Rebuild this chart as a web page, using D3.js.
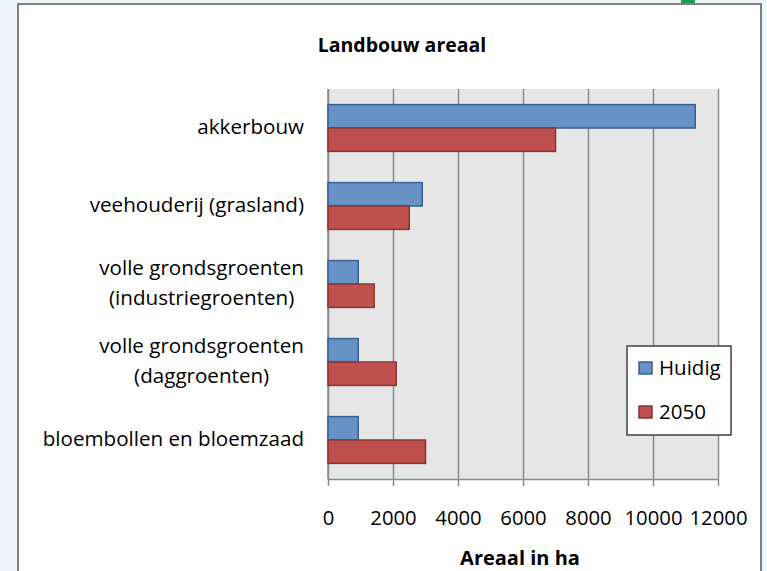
<!DOCTYPE html>
<html>
<head>
<meta charset="utf-8">
<script src="https://cdn.jsdelivr.net/npm/d3@7"></script>
<style>
  body { margin: 0; background: #eef6f9; }
  svg { display: block; font-family: "Open Sans", sans-serif; }
  .grid line { stroke: #8a8a8a; stroke-width: 1.5; }
  .grid path { display: none; }
  .xaxis path, .xaxis line { stroke: #8a8a8a; stroke-width: 1.5; }
  .xaxis text { font-size: 20.3px; fill: #000; font-family: "Open Sans", sans-serif; }
  .catLabel { font-size: 20.6px; fill: #000; }
</style>
</head>
<body>
<script>
// chart values
var categories = [
    ["akkerbouw"],
    ["veehouderij (grasland)"],
    ["volle grondsgroenten", "(industriegroenten)"],
    ["volle grondsgroenten", "(daggroenten)"],
    ["bloembollen en bloemzaad"]
];
var huidig = [11300, 2900, 930, 930, 930];
var jaar2050 = [7000, 2500, 1420, 2100, 3000];
var xTicks = [0, 2000, 4000, 6000, 8000, 10000, 12000];
var seriesNames = ["Huidig", "2050"];

var w = 767, h = 571;

window.onload = function(){

    var svg = d3.select("body")
        .append("svg")
        .attr("width", w)
        .attr("height", h);

    //faint page behind the chart
    svg.append("rect")
        .attr("x", 0).attr("y", 0)
        .attr("width", w).attr("height", h)
        .style("fill", "#eef6f9");
    svg.append("rect")
        .attr("x", 681).attr("y", 0)
        .attr("width", 14).attr("height", 5)
        .style("fill", "#1aa24a");

    //chart box
    svg.append("rect")
        .attr("x", 18).attr("y", 4)
        .attr("width", 743).attr("height", 590)
        .style("fill", "#fff")
        .style("stroke", "#808080")
        .style("stroke-width", 2);

    var left = 328, right = 718, top = 89, bottom = 479;

    var x = d3.scaleLinear()
        .domain([0, 12000])
        .range([left, right]);

    var y = d3.scaleBand()
        .domain(d3.range(categories.length))
        .range([top, bottom]);

    //plot background
    svg.append("rect")
        .attr("x", left).attr("y", top)
        .attr("width", right - left).attr("height", bottom - top)
        .style("fill", "#e6e6e6");

    //gridlines
    svg.append("g")
        .attr("class", "grid")
        .attr("transform", "translate(0," + bottom + ")")
        .call(d3.axisBottom(x).tickValues(xTicks).tickSize(-(bottom - top)).tickFormat(""));

    //x axis with ticks below
    var xAxis = svg.append("g")
        .attr("class", "xaxis")
        .attr("transform", "translate(0," + bottom + ")")
        .call(d3.axisBottom(x).tickValues(xTicks).tickSizeInner(7).tickSizeOuter(0).tickPadding(25).tickFormat(d3.format("d")));
    xAxis.selectAll("text").attr("dy", "0.71em");

    //y axis line
    svg.append("line")
        .attr("x1", left).attr("x2", left)
        .attr("y1", top).attr("y2", bottom)
        .style("stroke", "#8a8a8a")
        .style("stroke-width", 1.5);

    var barH = y.bandwidth() * 0.3;
    var colors = [
        {fill: "#6792c5", stroke: "#3a5f92"},
        {fill: "#c0504d", stroke: "#8a3330"}
    ];
    var series = [huidig, jaar2050];

    series.forEach(function(vals, s){
        svg.selectAll(".bar" + s)
            .data(vals)
            .enter()
            .append("rect")
            .attr("class", "bar" + s)
            .attr("x", x(0))
            .attr("y", function(d, i){
                return y(i) + y.bandwidth() / 2 - barH + s * barH;
            })
            .attr("width", function(d){ return x(d) - x(0); })
            .attr("height", barH)
            .style("fill", colors[s].fill)
            .style("stroke", colors[s].stroke)
            .style("stroke-width", 1.5);
    });

    //category labels - multi-line labels are centred under their first line
    var labelRight = 304;
    var labels = svg.selectAll(".catLabel")
        .data(categories)
        .enter()
        .append("text")
        .attr("class", "catLabel");

    labels.each(function(d, i){
        var cy = y(i) + y.bandwidth() / 2;
        var t = d3.select(this);
        if (d.length == 1) {
            t.attr("text-anchor", "end")
                .append("tspan").attr("x", labelRight).attr("y", cy + 6).text(d[0]);
        } else {
            var first = t.append("tspan").attr("y", cy - 9).text(d[0]);
            var len = first.node().getComputedTextLength();
            var mid = labelRight - len / 2;
            t.attr("text-anchor", "middle");
            first.attr("x", mid);
            t.append("tspan").attr("x", mid).attr("y", cy + 21).text(d[1]);
        }
    });

    //title
    svg.append("text")
        .attr("x", 402).attr("y", 52)
        .attr("text-anchor", "middle")
        .style("font-size", "19.5px")
        .style("font-weight", "bold")
        .text("Landbouw areaal");

    //axis title
    svg.append("text")
        .attr("x", 520).attr("y", 565)
        .attr("text-anchor", "middle")
        .style("font-size", "20px")
        .style("font-weight", "bold")
        .text("Areaal in ha");

    //legend
    var legend = svg.append("g");
    legend.append("rect")
        .attr("x", 627).attr("y", 346)
        .attr("width", 104).attr("height", 89)
        .style("fill", "#fff")
        .style("stroke", "#404040")
        .style("stroke-width", 1.5);

    var item = legend.selectAll(".item")
        .data(seriesNames)
        .enter()
        .append("g")
        .attr("class", "item")
        .attr("transform", function(d, i){
            return "translate(639," + (362 + i * 44) + ")";
        });
    item.append("rect")
        .attr("width", 13).attr("height", 12)
        .style("fill", function(d, i){ return colors[i].fill; })
        .style("stroke", function(d, i){ return colors[i].stroke; })
        .style("stroke-width", 1.5);
    item.append("text")
        .attr("x", 20).attr("y", 13)
        .style("font-size", "20.5px")
        .text(function(d){ return d; });
};
</script>
</body>
</html>
